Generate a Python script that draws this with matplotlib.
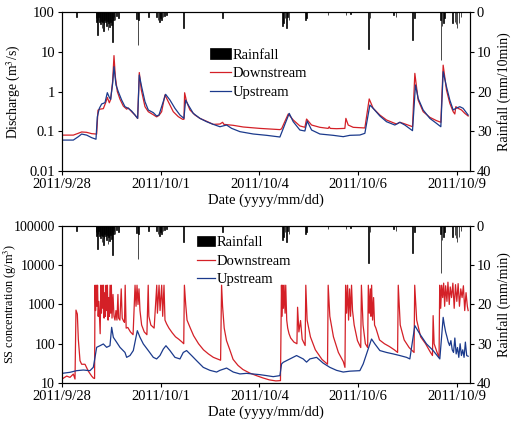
import matplotlib
matplotlib.use("Agg")
import matplotlib.pyplot as plt

plt.rcParams['font.family'] = ['Liberation Serif', 'DejaVu Serif']
plt.rcParams['font.size'] = 10.5
plt.rcParams['mathtext.fontset'] = 'stix'

RED = '#d42027'
BLUE = '#1b3a8c'

# time in days since 2011/9/28 00:00
tick_pos = [0, 3, 6, 9, 12]
tick_labels = ['2011/9/28', '2011/10/1', '2011/10/4', '2011/10/6', '2011/10/9']

# rainfall (same record shown on both panels)
rain_t = [0.446, 1.033, 1.053, 1.073, 1.094, 1.114, 1.134, 1.154, 1.175, 1.195,
          1.215, 1.235, 1.256, 1.276, 1.296, 1.316, 1.337, 1.357, 1.377, 1.397,
          1.418, 1.438, 1.458, 1.478, 1.499, 1.519, 1.539, 1.560, 1.580, 1.610,
          1.660, 1.711, 2.26, 2.31, 2.33, 2.62, 2.88, 2.92, 2.96, 2.99, 3.03,
          3.07, 3.12, 3.17, 3.69, 4.88, 6.71, 6.74, 6.78, 6.82, 6.86, 6.90,
          7.41, 7.43, 8.08, 8.63, 8.76, 9.31, 9.36, 10.07, 10.15, 10.66, 10.72,
          11.50, 11.52, 11.55, 11.59, 11.63, 11.87, 11.94, 11.97, 12.01, 12.07,
          12.13]
rain_mm = [1.2, 1.5, 2.5, 5.8, 2.0, 1.2, 2.5, 1.8, 3.0, 2.2,
           4.0, 2.5, 4.8, 3.0, 2.0, 2.6, 1.8, 3.5, 2.2, 4.5,
           2.8, 3.8, 2.0, 2.4, 3.2, 1.5, 7.5, 2.0, 1.2, 2.0,
           1.0, 1.5, 1.8, 8.3, 2.0, 1.2, 1.2, 2.0, 2.6, 1.5, 2.0,
           1.2, 1.0, 0.8, 4.0, 1.6, 3.5, 2.8, 1.5, 4.1, 1.2, 2.0,
           2.0, 1.5, 0.8, 0.8, 0.6, 9.4, 1.5, 0.8, 1.2, 7.0, 1.5,
           2.0, 12.0, 3.5, 2.8, 1.5, 2.8, 2.4, 3.0, 4.1, 2.8,
           1.2]

# discharge, downstream
dq_t = [0, 0.344, 0.496, 0.597, 0.749, 0.901, 1.053, 1.094, 1.154, 1.256,
        1.337, 1.377, 1.438, 1.478, 1.539, 1.580, 1.620, 1.681, 1.762, 1.863,
        1.965, 2.015, 2.116, 2.218, 2.299, 2.349, 2.410, 2.522, 2.623, 2.775,
        2.876, 2.947, 3.028, 3.129, 3.230, 3.382, 3.534, 3.666, 3.706, 3.727,
        3.787, 3.889, 4.041, 4.192, 4.395, 4.597, 4.800, 4.881, 4.922, 5.205,
        5.509, 6.015, 6.623, 6.673, 6.876, 7.028, 7.230, 7.382, 7.433, 7.585,
        7.838, 8.091, 8.122, 8.150, 8.344, 8.597, 8.628, 8.699, 8.851, 9.205,
        9.337, 9.458, 9.661, 9.863, 10.066, 10.167, 10.268, 10.370, 10.572, 10.653,
        10.724, 10.825, 10.977, 11.180, 11.382, 11.514, 11.585, 11.686, 11.787, 11.889,
        11.939, 11.970, 12.041, 12.142, 12.243, 12.344]
dq_v = [0.080, 0.080, 0.089, 0.096, 0.094, 0.087, 0.085, 0.34, 0.36, 0.37,
        0.55, 0.71, 0.52, 0.63, 1.8, 8.0, 2.4, 1.0, 0.64, 0.43,
        0.36, 0.385, 0.31, 0.256, 0.21, 3.0, 1.1, 0.415, 0.31, 0.26,
        0.23, 0.25, 0.31, 0.82, 0.555, 0.31, 0.233, 0.20, 0.20, 0.93,
        0.555, 0.343, 0.256, 0.211, 0.178, 0.149, 0.152, 0.168, 0.149, 0.141,
        0.128, 0.118, 0.110, 0.115, 0.272, 0.192, 0.136, 0.126, 0.203, 0.1435,
        0.1256, 0.118, 0.130, 0.118, 0.116, 0.118, 0.211, 0.1435, 0.1256, 0.121,
        0.65, 0.377, 0.256, 0.192, 0.164, 0.152, 0.168, 0.158, 0.138, 0.130,
        2.86, 0.61, 0.311, 0.224, 0.185, 0.168, 4.6, 1.09, 0.504, 0.311,
        0.272, 0.415, 0.377, 0.343, 0.282, 0.242]

# discharge, upstream
uq_t = [0, 0.344, 0.496, 0.597, 0.749, 0.901, 1.033, 1.073, 1.134, 1.205,
        1.306, 1.377, 1.438, 1.478, 1.539, 1.580, 1.641, 1.711, 1.813, 1.914,
        2.015, 2.116, 2.218, 2.299, 2.349, 2.420, 2.522, 2.623, 2.775, 2.876,
        2.947, 3.028, 3.149, 3.281, 3.433, 3.585, 3.706, 3.757, 3.838, 3.990,
        4.192, 4.395, 4.597, 4.800, 5.003, 5.154, 5.408, 5.813, 6.218, 6.623,
        6.906, 7.028, 7.230, 7.382, 7.453, 7.585, 7.838, 8.243, 8.547, 8.749,
        9.053, 9.205, 9.357, 9.458, 9.661, 9.863, 10.116, 10.268, 10.420, 10.653,
        10.744, 10.825, 10.977, 11.180, 11.382, 11.514, 11.585, 11.686, 11.787, 11.889,
        11.970, 12.091, 12.192, 12.344]
uq_v = [0.060, 0.060, 0.073, 0.085, 0.080, 0.069, 0.063, 0.23, 0.377, 0.485,
        0.524, 0.935, 0.71, 0.635, 1.6, 4.2, 1.46, 0.99, 0.61, 0.415,
        0.377, 0.323, 0.256, 0.211, 2.6, 1.32, 0.555, 0.343, 0.294, 0.242,
        0.256, 0.415, 0.85, 0.61, 0.377, 0.256, 0.211, 0.61, 0.457, 0.282,
        0.211, 0.174, 0.149, 0.130, 0.1435, 0.1184, 0.0977, 0.0853, 0.079, 0.0717,
        0.282, 0.174, 0.1075, 0.1014, 0.181, 0.1075, 0.0853, 0.079, 0.0731, 0.079,
        0.0805, 0.0887, 0.457, 0.377, 0.242, 0.174, 0.1435, 0.168, 0.1435, 0.1035,
        1.46, 0.67, 0.343, 0.211, 0.158, 0.130, 3.15, 1.32, 0.61, 0.343,
        0.377, 0.415, 0.377, 0.256]

# SS concentration, downstream
ds_t = [0.000, 0.142, 0.243, 0.344, 0.395, 0.425, 0.466, 0.496, 0.547, 0.597,
        0.699, 0.800, 0.901, 0.952, 0.990, 1.003, 1.02, 1.04, 1.06, 1.08,
        1.10, 1.12, 1.16, 1.18, 1.20, 1.22, 1.24, 1.26, 1.28, 1.30,
        1.32, 1.34, 1.36, 1.38, 1.40, 1.42, 1.44, 1.46, 1.48, 1.50,
        1.52, 1.55, 1.58, 1.61, 1.64, 1.67, 1.70, 1.72, 1.76, 1.80,
        1.83, 1.87, 1.90, 1.92, 1.95, 2.00, 2.08, 2.16, 2.22, 2.25,
        2.28, 2.31, 2.34, 2.37, 2.42, 2.50, 2.58, 2.62, 2.64, 2.70,
        2.80, 2.88, 2.90, 2.95, 2.98, 3.03, 3.06, 3.10, 3.13, 3.18,
        3.25, 3.35, 3.45, 3.55, 3.65, 3.70, 3.72, 3.76, 3.80, 3.90,
        4.00, 4.15, 4.30, 4.45, 4.60, 4.75, 4.82, 4.85, 4.88, 4.93,
        5.00, 5.10, 5.20, 5.35, 5.50, 5.70, 5.90, 6.10, 6.30, 6.50,
        6.64, 6.67, 6.69, 6.71, 6.73, 6.75, 6.78, 6.80, 6.83, 6.86,
        6.90, 6.95, 7.05, 7.14, 7.16, 7.20, 7.25, 7.30, 7.39, 7.41,
        7.45, 7.55, 7.70, 7.90, 8.07, 8.09, 8.14, 8.25, 8.40, 8.55,
        8.60, 8.62, 8.65, 8.68, 8.71, 8.74, 8.77, 8.80, 8.83, 8.88,
        8.98, 9.08, 9.10, 9.15, 9.22, 9.29, 9.31, 9.34, 9.37, 9.39,
        9.41, 9.44, 9.47, 9.50, 9.54, 9.65, 9.80, 9.95, 10.10, 10.20,
        10.22, 10.28, 10.40, 10.55, 10.70, 10.72, 10.78, 10.90, 11.05, 11.20,
        11.26, 11.28, 11.31, 11.40, 11.46, 11.48, 11.51, 11.54, 11.57, 11.60,
        11.63, 11.66, 11.70, 11.73, 11.77, 11.80, 11.84, 11.88, 11.92, 11.96,
        12.00, 12.04, 12.08, 12.12, 12.16, 12.20, 12.24, 12.28, 12.32, 12.344]
ds_v = [12.6, 15, 13.9, 16.9, 12.6, 720, 570, 130, 37, 30,
        30, 20, 15, 13.4, 13, 3100, 700, 3100, 900, 3100,
        500, 1200, 180, 3100, 600, 3100, 800, 3100, 450, 2000,
        500, 3100, 700, 3100, 400, 1500, 500, 3100, 600, 3100,
        450, 1800, 500, 400, 700, 400, 1800, 450, 400, 2500,
        450, 380, 350, 3100, 250, 260, 200, 170, 3100, 900,
        3100, 1000, 2500, 700, 300, 200, 170, 3100, 500, 300,
        250, 3100, 600, 3100, 700, 3100, 500, 3100, 400, 320,
        250, 190, 150, 130, 110, 100, 3100, 1000, 400, 250,
        160, 100, 70, 55, 45, 40, 38, 3100, 900, 250,
        120, 70, 40, 28, 22, 18, 15.5, 13.5, 12, 11.3,
        11.5, 3100, 500, 3100, 800, 3100, 600, 3100, 400, 250,
        180, 140, 110, 100, 850, 200, 390, 130, 90, 3100,
        400, 150, 70, 40, 30, 3100, 500, 150, 60, 35,
        25, 3100, 600, 3100, 400, 2500, 500, 3100, 700, 300,
        120, 80, 3100, 300, 100, 80, 3100, 600, 2500, 500,
        3100, 400, 1500, 300, 250, 125, 100, 85, 70, 60,
        3100, 300, 125, 80, 60, 3100, 400, 150, 100, 60,
        50, 520, 100, 60, 45, 3100, 800, 3100, 1500, 3500,
        900, 3000, 1200, 3700, 1000, 2800, 1500, 3500, 800, 3200,
        1200, 3400, 900, 2500, 1500, 3000, 700, 2000, 900, 700]

# SS concentration, upstream
us_t = [0.000, 0.243, 0.445, 0.648, 0.850, 0.952, 1.003, 1.053, 1.154, 1.256,
        1.357, 1.458, 1.509, 1.560, 1.661, 1.762, 1.914, 1.965, 2.066, 2.167,
        2.289, 2.370, 2.471, 2.623, 2.775, 2.876, 2.977, 3.078, 3.159, 3.281,
        3.433, 3.585, 3.686, 3.787, 3.939, 4.091, 4.294, 4.496, 4.699, 4.800,
        5.003, 5.205, 5.408, 5.610, 6.015, 6.218, 6.420, 6.623, 6.673, 6.724,
        6.927, 7.129, 7.331, 7.433, 7.534, 7.737, 7.939, 8.142, 8.344, 8.547,
        8.749, 9.053, 9.154, 9.408, 9.509, 9.661, 9.863, 10.066, 10.268, 10.471,
        10.572, 10.724, 10.876, 11.078, 11.281, 11.483, 11.585, 11.62, 11.66, 11.70,
        11.74, 11.78, 11.82, 11.86, 11.90, 11.94, 11.98, 12.02, 12.06, 12.10,
        12.14, 12.18, 12.22, 12.26, 12.30, 12.344]
us_v = [17.6, 18.7, 20.6, 21.4, 20.6, 25.1, 45, 81, 89, 98.6,
        81, 89, 262, 146, 109, 81, 60, 45, 50, 67,
        215, 146, 99, 67, 45, 41, 50, 73, 89, 67,
        45, 41, 60, 67, 50, 37, 25, 21, 19, 21,
        24, 19, 17, 17.6, 16.3, 15.4, 14.5, 15.4, 30.5, 33.6,
        41, 50, 41, 34, 41, 45, 32, 25, 21, 19,
        20, 20.6, 30.5, 132, 99, 67, 60, 55, 50, 45,
        41, 289, 177, 99, 67, 41, 470, 300, 200, 150,
        110, 90, 120, 70, 60, 140, 55, 80, 45, 100,
        50, 70, 45, 110, 50, 48]

fig = plt.figure(figsize=(5.18, 4.21), dpi=100)
ax1 = fig.add_axes([0.1197, 0.5938, 0.7876, 0.3777])
ax3 = fig.add_axes([0.1197, 0.0903, 0.7876, 0.3729])

panels = [
    (ax1, dq_t, dq_v, uq_t, uq_v, (0.01, 100), [0.01, 0.1, 1, 10, 100],
     'Discharge (m$^3$/s)', 'Rainfall (mm/10min)', (0.405, 0.885), 1.45, 9.8, -0.095, 10.5),
    (ax3, ds_t, ds_v, us_t, us_v, (10, 100000), [10, 100, 1000, 10000, 100000],
     'SS concentration (g/m$^3$)', 'Rainfall (mm/min)', (0.380, 0.440), 1.25, 8.8, -0.106, 10),
]

for ax, dt, dv, ut, uv, ylim, yt, ylab, rlab, lpos, hl, yls, ylx, yts in panels:
    ld, = ax.plot(dt, dv, color=RED, lw=0.9, label='Downstream')
    lu, = ax.plot(ut, uv, color=BLUE, lw=0.9, label='Upstream')
    ax.set_yscale('log')
    ax.set_ylim(*ylim)
    ax.set_yticks(yt)
    ax.set_yticklabels([('%g' % v) if v < 1 else str(int(v)) for v in yt],
                       fontsize=yts)
    ax.minorticks_off()
    ax.set_xlim(0, 12.4)
    ax.set_xticks(tick_pos)
    ax.set_xticklabels(tick_labels)
    ax.set_xlabel('Date (yyyy/mm/dd)', labelpad=2)
    ax.set_ylabel(ylab, fontsize=yls)
    ax.yaxis.set_label_coords(ylx, 0.5)
    ax.tick_params(direction='out', length=3, width=0.8, pad=2)

    ax2 = ax.twinx()
    bars = ax2.bar(rain_t, rain_mm, width=0.02, color='black',
                   edgecolor='black', linewidth=0.5, label='Rainfall')
    ax2.set_ylim(40, 0)
    ax2.set_yticks([0, 10, 20, 30, 40])
    ax2.set_ylabel(rlab, labelpad=4, fontsize=10)
    ax2.tick_params(direction='out', length=3, width=0.8, pad=2)
    ax2.set_xlim(0, 12.4)

    fig.legend([bars, ld, lu], ['Rainfall', 'Downstream', 'Upstream'],
               loc='upper left', bbox_to_anchor=lpos, frameon=False,
               borderpad=0, borderaxespad=0, handlelength=hl,
               handletextpad=0.1, labelspacing=0.38, fontsize=10.5)

fig.savefig('out.png', dpi=100)
